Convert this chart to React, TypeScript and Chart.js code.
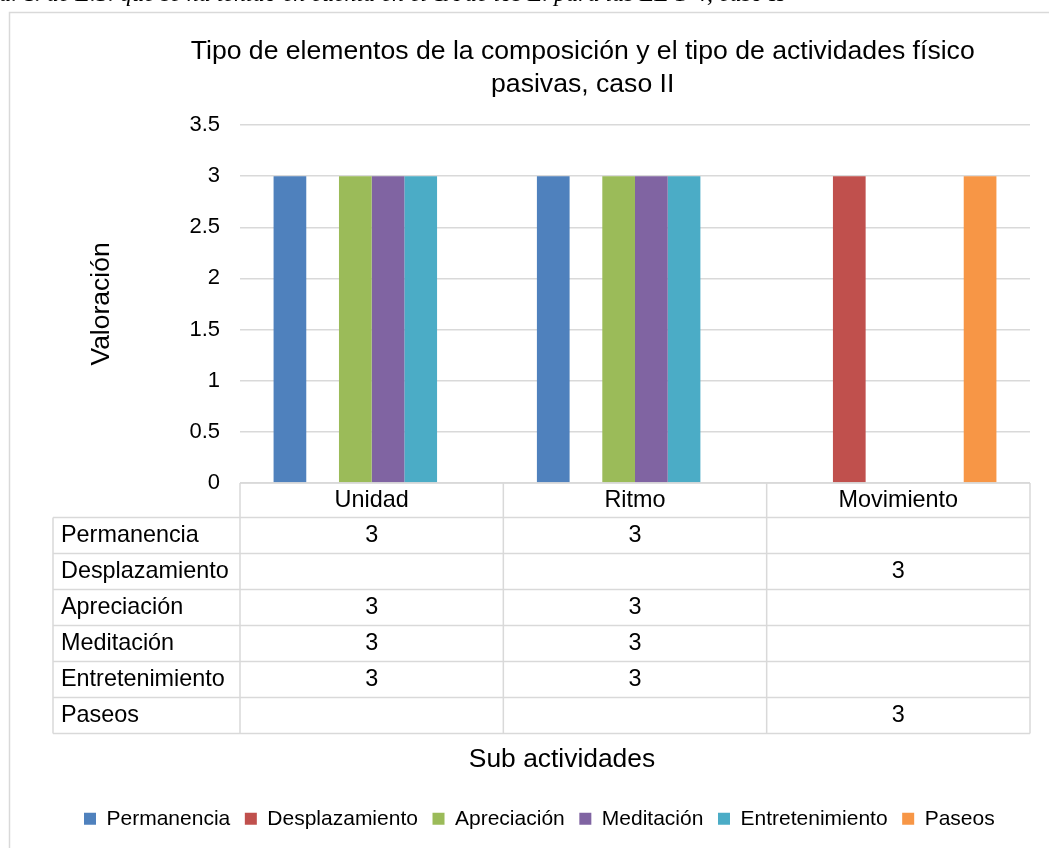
import React, { useEffect, useRef } from "react";
import { Chart, registerables } from "chart.js";

Chart.register(...registerables);

const titleLines = [
  "Tipo de elementos de la composición y el tipo de actividades físico",
  "pasivas, caso II",
];
const captionText =
  "a. T. de E.S. que se ha tenido en cuenta en el TA de los E. para las EE 1-4, caso II";
const yAxisTitle = "Valoración";
const xAxisTitle = "Sub actividades";

const categories = ["Unidad", "Ritmo", "Movimiento"];
const seriesNames = [
  "Permanencia",
  "Desplazamiento",
  "Apreciación",
  "Meditación",
  "Entretenimiento",
  "Paseos",
];
const permanencia = [3, 3, null];
const desplazamiento = [null, null, 3];
const apreciacion = [3, 3, null];
const meditacion = [3, 3, null];
const entretenimiento = [3, 3, null];
const paseos = [null, null, 3];
const seriesValues = [permanencia, desplazamiento, apreciacion, meditacion, entretenimiento, paseos];
const seriesColors = ["#4F81BD", "#C0504D", "#9BBB59", "#8064A2", "#4BACC6", "#F79646"];

const yMin = 0;
const yMax = 3.5;
const yStep = 0.5;

const FONT = "'Liberation Sans', Arial, sans-serif";
const GRID = "#d9d9d9";

const framePlugin = {
  id: "frame",
  beforeDraw(chart: any) {
    const ctx = chart.ctx;
    ctx.save();
    ctx.strokeStyle = GRID;
    ctx.lineWidth = 1.5;
    ctx.strokeRect(9.5, 12.5, 3000, 3000);
    ctx.restore();
  },
};

const tablePlugin = {
  id: "dataTable",
  afterDraw(chart: any, _args: any, opts: any) {
    const { ctx, chartArea } = chart;
    const x = chart.scales.x;
    const labels: string[] = chart.data.labels;
    const n = labels.length;
    const top = chartArea.bottom;
    const headerH = opts.headerHeight;
    const rowH = opts.rowHeight;
    const labelLeft = opts.labelLeft;
    const datasets = chart.data.datasets;
    const edges: number[] = [];
    for (let i = 0; i <= n; i++) edges.push(x.getPixelForValue(i - 0.5));
    const right = edges[n];
    const bottom = top + headerH + rowH * datasets.length;

    ctx.save();
    ctx.strokeStyle = GRID;
    ctx.lineWidth = 1.5;
    ctx.beginPath();
    ctx.moveTo(edges[0], top);
    ctx.lineTo(right, top);
    for (let r = 0; r <= datasets.length; r++) {
      const yy = top + headerH + r * rowH;
      ctx.moveTo(labelLeft, yy);
      ctx.lineTo(right, yy);
    }
    for (let i = 0; i <= n; i++) {
      ctx.moveTo(edges[i], top);
      ctx.lineTo(edges[i], bottom);
    }
    ctx.moveTo(labelLeft, top + headerH);
    ctx.lineTo(labelLeft, bottom);
    ctx.stroke();

    ctx.fillStyle = "#000";
    ctx.font = `${opts.fontSize}px ${FONT}`;
    ctx.textBaseline = "middle";
    ctx.textAlign = "center";
    for (let i = 0; i < n; i++) {
      ctx.fillText(labels[i], (edges[i] + edges[i + 1]) / 2, top + headerH / 2);
    }
    datasets.forEach((ds: any, r: number) => {
      const cy = top + headerH + r * rowH + rowH / 2;
      ctx.textAlign = "left";
      ctx.fillText(ds.label, labelLeft + 8, cy);
      ctx.textAlign = "center";
      ds.data.forEach((v: number | null, i: number) => {
        if (v === null || v === undefined) return;
        ctx.fillText(String(v), (edges[i] + edges[i + 1]) / 2, cy);
      });
    });

    // axis title below the table
    ctx.font = `${opts.titleFontSize}px ${FONT}`;
    ctx.textAlign = "center";
    ctx.fillText(opts.title, opts.titleCenterX, bottom + opts.titleGap);
    ctx.restore();
  },
};

export default function App() {
  const canvasRef = useRef<HTMLCanvasElement | null>(null);

  useEffect(() => {
    if (!canvasRef.current) return;
    Chart.defaults.font.family = FONT;
    Chart.defaults.color = "#000";
    const chart = new Chart(canvasRef.current, {
      type: "bar",
      data: {
        labels: categories,
        datasets: seriesNames.map((name, i) => ({
          label: name,
          data: seriesValues[i],
          backgroundColor: seriesColors[i],
          borderWidth: 0,
          categoryPercentage: 0.745,
          barPercentage: 1.0,
        })),
      },
      options: {
        responsive: false,
        animation: false,
        devicePixelRatio: 1,
        layout: { padding: { top: 16, left: 69.4, right: 4, bottom: 8.75 } },
        plugins: {
          title: {
            display: true,
            text: titleLines,
            color: "#000",
            font: { size: 26.6, weight: "normal", family: FONT, lineHeight: 33 / 26.6 },
            padding: { top: 19, bottom: 24 },
          },
          legend: {
            position: "bottom",
            align: "start",
            labels: {
              boxWidth: 12,
              boxHeight: 12,
              padding: 14.6,
              color: "#000",
              font: { size: 21, family: FONT },
            },
          },
          tooltip: { enabled: false },
          dataTable: {
            headerHeight: 34.5,
            rowHeight: 36,
            labelLeft: 53,
            fontSize: 23.4,
            title: xAxisTitle,
            titleFontSize: 26.4,
            titleCenterX: 562,
            titleGap: 26,
          },
        } as any,
        scales: {
          x: {
            type: "category",
            grid: { display: false },
            border: { display: false },
            ticks: { display: false },
            title: { display: false },
            afterFit: (s: any) => {
              s.height = 310.75;
            },
          },
          y: {
            min: yMin,
            max: yMax,
            grid: { color: GRID, lineWidth: 1.5, drawTicks: false },
            border: { display: false },
            ticks: {
              stepSize: yStep,
              padding: 20,
              color: "#000",
              font: { size: 22, family: FONT },
              callback: (v: any) => String(v),
            },
            title: {
              display: true,
              text: yAxisTitle,
              color: "#000",
              font: { size: 26.5, family: FONT },
              padding: { top: 16.4, bottom: 0 },
            },
            afterFit: (s: any) => {
              s.width = 240 - 69.4;
            },
          },
          yRight: {
            type: "linear",
            position: "right",
            display: true,
            grid: { display: false },
            border: { display: false },
            ticks: { display: false },
            afterFit: (s: any) => {
              s.width = 66;
            },
          },
        },
      },
      plugins: [framePlugin, tablePlugin],
    } as any);
    return () => chart.destroy();
  }, []);

  return (
    <div
      style={{
        position: "fixed",
        left: 0,
        top: 0,
        width: 1049,
        height: 848,
        overflow: "hidden",
        background: "#fff",
      }}
    >
      <canvas ref={canvasRef} width={1100} height={848} style={{ position: "absolute", left: 0, top: 0 }} />
      <div
        style={{
          position: "absolute",
          right: 264,
          top: -21,
          whiteSpace: "nowrap",
          fontFamily: "'Liberation Serif', 'Times New Roman', serif",
          fontStyle: "italic",
          fontSize: 24,
          lineHeight: "28px",
          color: "#000",
        }}
      >
        {captionText}
      </div>
    </div>
  );
}
